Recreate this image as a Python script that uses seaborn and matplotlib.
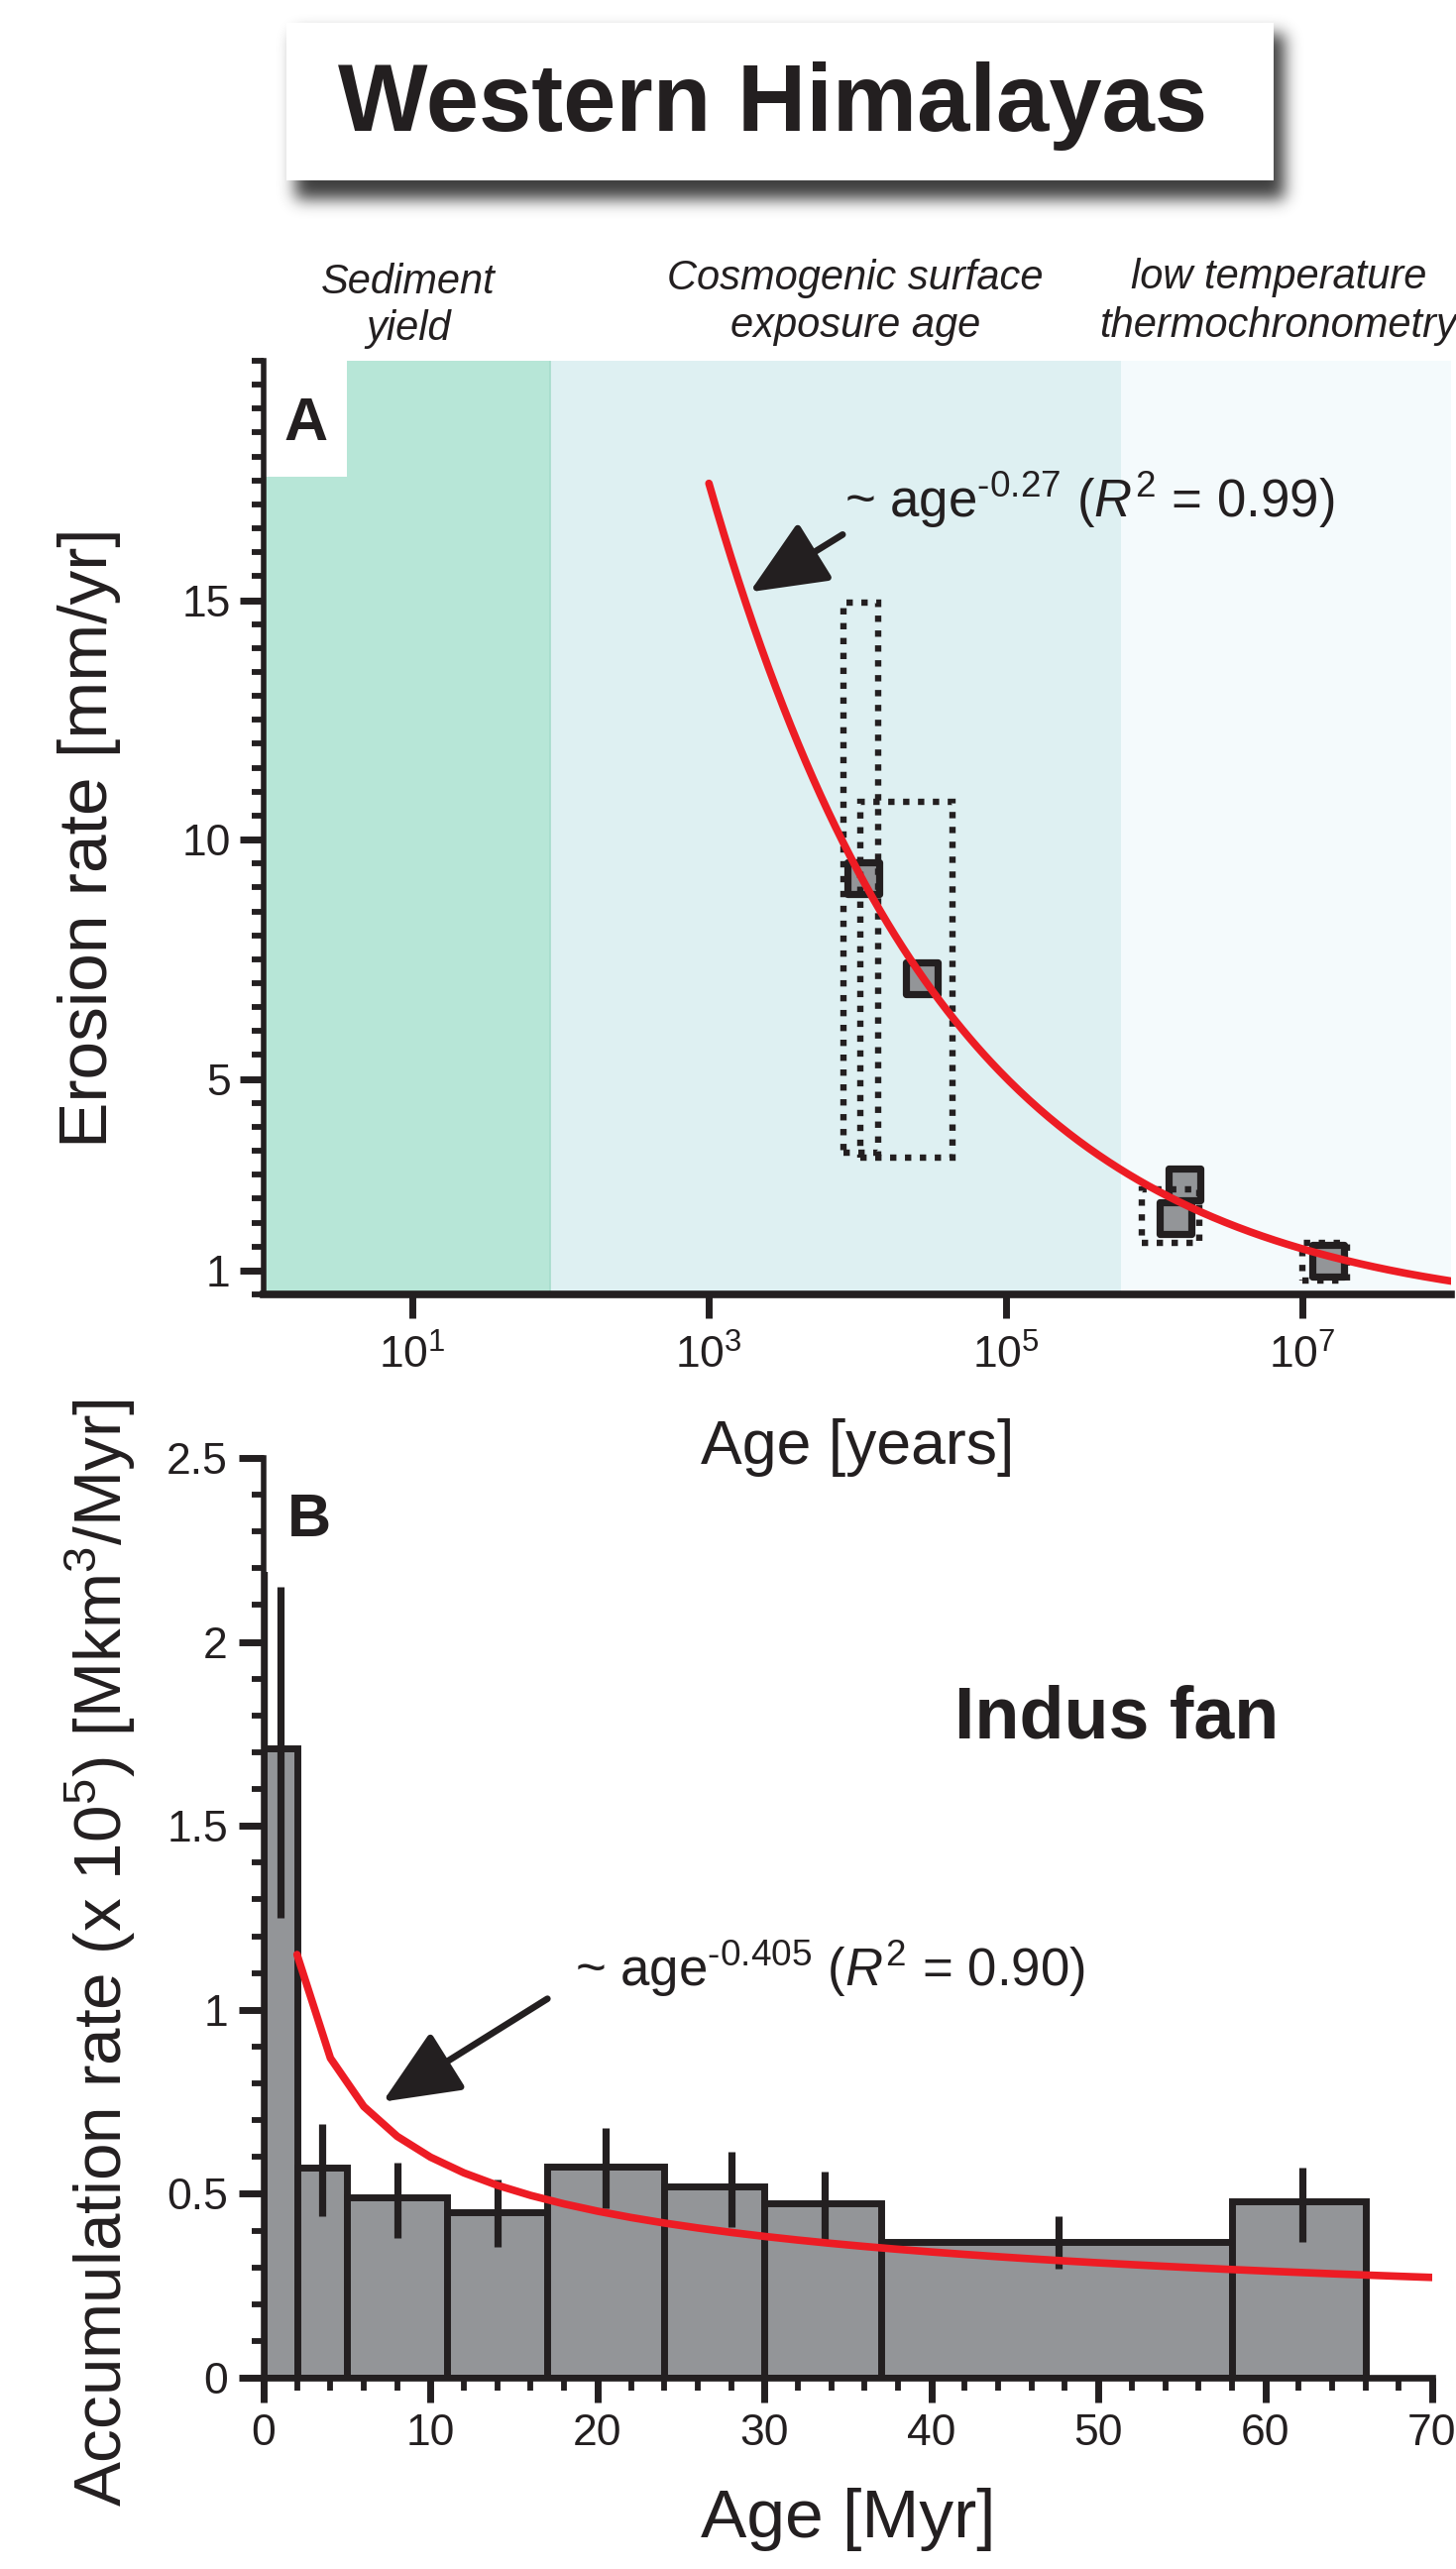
import numpy as np
import matplotlib
matplotlib.use("Agg")
import matplotlib.pyplot as plt
from matplotlib.patches import Rectangle
from matplotlib.ticker import FixedLocator, FixedFormatter, MultipleLocator, NullLocator, FormatStrFormatter
import seaborn as sns

# ------------------------------------------------------------------
# Panel A: erosion rate against measurement time scale (log age)
# ------------------------------------------------------------------
sample_age_yr = [1.09e4, 2.73e4, 1.59e6, 1.40e6, 1.49e7]
sample_rate = [9.2, 7.1, 2.8, 2.1, 1.2]

# uncertainty envelopes (dotted boxes)
range_age_lo = [8.05e3, 1.05e4, 8.2e5, 1.0e7]
range_age_hi = [1.39e4, 4.4e4, 2.0e6, 2.0e7]
range_rate_lo = [3.45, 3.36, 1.58, 0.80]
range_rate_hi = [14.95, 10.78, 2.70, 1.58]

method_labels = [["Sediment", "yield"],
                 ["Cosmogenic surface", "exposure age"],
                 ["low temperature", "thermochronometry"]]
method_bounds = [1, 85, 6e5, 1e8]
method_colors = ["#b7e6d7", "#def0f2", "#f4fafc"]

fit_a_coef = 112.6
fit_a_exp = -0.27
fit_a_r2 = 0.99
fit_a_range = (1e3, 1e8)

# ------------------------------------------------------------------
# Panel B: Indus fan accumulation rate
# ------------------------------------------------------------------
bin_edges_myr = [0, 2, 5, 11, 17, 24, 30, 37, 58, 66]
accum_rate = [1.71, 0.57, 0.49, 0.45, 0.575, 0.52, 0.475, 0.37, 0.48]
err_age = [1.0, 3.5, 8.0, 14.0, 20.5, 28.0, 33.6, 47.6, 62.2]
err_lo = [1.25, 0.44, 0.38, 0.355, 0.46, 0.41, 0.375, 0.295, 0.37]
err_hi = [2.15, 0.69, 0.585, 0.54, 0.68, 0.615, 0.56, 0.44, 0.57]
edge_spike_age = 0.15
edge_spike = (1.71, 2.19)

fit_b_coef = 1.523
fit_b_exp = -0.405
fit_b_r2 = 0.90
fit_b_ages = np.arange(2, 72, 2)

INK = "#231f20"
GREY = "#939598"
RED = "#ed1c24"
HYPHEN = "\u2010"

sns.set_theme(style="ticks")
plt.rcParams.update({
    "font.family": ["Liberation Sans", "DejaVu Sans"],
    "mathtext.fontset": "custom",
    "mathtext.rm": "Liberation Sans",
    "mathtext.it": "Liberation Sans:italic",
    "mathtext.bf": "Liberation Sans:bold",
    "text.color": INK,
    "axes.labelcolor": INK,
    "xtick.color": INK,
    "ytick.color": INK,
    "axes.edgecolor": INK,
})

W, H = 1469, 2592
fig = plt.figure(figsize=(W / 100, H / 100), dpi=100)
fig.patch.set_facecolor("white")


def fx(px):
    return px / W


def fy(py):
    return 1 - py / H


def fit_label(exp, r2):
    exp_txt = f"{exp:g}".replace("-", HYPHEN)
    return r"~ $\mathregular{age^{%s}}$ ($R^{\mathregular{2}}$ = %.2f)" % (exp_txt, r2)


ARROW = dict(arrowstyle="-|>,head_length=2.4,head_width=1.05",
             mutation_scale=20, lw=4.8, color=INK, shrinkA=0, shrinkB=0)

# ---------------- title box with soft drop shadow ----------------
sx0, sx1, sy0, sy1 = 250, 1350, 0, 270
tax = fig.add_axes([fx(sx0), fy(sy1), fx(sx1 - sx0), (sy1 - sy0) / H], zorder=0)
tax.set_axis_off()
mask = np.zeros((sy1 - sy0, sx1 - sx0))
mask[34:201, 298 - sx0:1296 - sx0] = 1.0
sig = 8.0
t = np.arange(-int(3 * sig), int(3 * sig) + 1)
k = np.exp(-0.5 * (t / sig) ** 2)
k /= k.sum()
blur = np.apply_along_axis(lambda v: np.convolve(v, k, mode="same"), 1, mask)
blur = np.apply_along_axis(lambda v: np.convolve(v, k, mode="same"), 0, blur)
rgba = np.zeros(mask.shape + (4,))
rgba[..., :3] = 0.16
rgba[..., 3] = 0.9 * blur
tax.imshow(rgba, extent=(sx0, sx1, sy1, sy0), interpolation="bilinear", aspect="auto")
tax.add_patch(Rectangle((289, 23), 1285 - 289, 182 - 23, facecolor="white",
                        edgecolor="none", zorder=3))
tax.text(780, 132, "Western Himalayas", fontsize=69, fontweight="bold",
         ha="center", va="baseline", zorder=4)
tax.set_xlim(sx0, sx1)
tax.set_ylim(sy1, sy0)

# ---------------- method headers ----------------
header_pos = [(412, 296, 343), (863, 292, 340), (1290, 291, 340)]
for lines, (cx, b1, b2) in zip(method_labels, header_pos):
    fig.text(fx(cx), fy(b1), lines[0], fontsize=30, style="italic",
             ha="center", va="baseline")
    fig.text(fx(cx), fy(b2), lines[1], fontsize=30, style="italic",
             ha="center", va="baseline")

# ---------------- panel A ----------------
axA = fig.add_axes([fx(266), fy(1306), fx(1464 - 266), (1306 - 364) / H], zorder=2)
axA.set_xscale("log")
for lo, hi, col in zip(method_bounds[:-1], method_bounds[1:], method_colors):
    axA.axvspan(lo, hi, color=col, lw=0, zorder=0.5)
axA.axvline(method_bounds[1], color="#a6dccb", lw=1.2, zorder=0.6)
axA.add_patch(Rectangle((0, 0.8758), 0.0701, 0.1242, transform=axA.transAxes,
                        facecolor="white", edgecolor="none", zorder=1))

sns.scatterplot(x=sample_age_yr, y=sample_rate, marker="s", s=529,
                color=GREY, edgecolor=INK, linewidth=5.2, ax=axA, zorder=3,
                legend=False)
for a0, a1, r0, r1 in zip(range_age_lo, range_age_hi, range_rate_lo, range_rate_hi):
    axA.add_patch(Rectangle((a0, r0), a1 - a0, r1 - r0, fill=False,
                            edgecolor=INK, lw=4.6, ls=(0, (1.0, 1.35)), zorder=4))

fit_a_age = np.logspace(np.log10(fit_a_range[0]), np.log10(fit_a_range[1]), 300)
sns.lineplot(x=fit_a_age, y=fit_a_coef * fit_a_age ** fit_a_exp, color=RED,
             lw=5.5, ax=axA, zorder=5, sort=True, estimator=None)

axA.annotate("", xy=(1884, 15.17), xytext=(7960, 16.37), arrowprops=ARROW, zorder=6)
axA.text(8240, 16.72, fit_label(fit_a_exp, fit_a_r2),
         fontsize=38, ha="left", va="baseline", zorder=6)
axA.text(0.0175, 0.915, "A", transform=axA.transAxes, fontsize=44,
         fontweight="bold", ha="left", va="baseline", zorder=6)

axA.set_xlim(1, 1e8)
axA.set_ylim(0.5, 20)
axA.xaxis.set_major_locator(FixedLocator([1e1, 1e3, 1e5, 1e7]))
axA.xaxis.set_major_formatter(FixedFormatter(
    [r"$\mathregular{10^{1}}$", r"$\mathregular{10^{3}}$",
     r"$\mathregular{10^{5}}$", r"$\mathregular{10^{7}}$"]))
axA.xaxis.set_minor_locator(NullLocator())
axA.yaxis.set_major_locator(FixedLocator([1, 5, 10, 15]))
axA.yaxis.set_major_formatter(FormatStrFormatter("%g"))
axA.yaxis.set_minor_locator(MultipleLocator(0.5))
axA.tick_params(axis="both", which="major", length=17, width=5,
                direction="out", labelsize=32, pad=7)
axA.tick_params(axis="x", which="major", pad=12)
axA.tick_params(axis="y", which="minor", length=8.6, width=4.2, direction="out")
for side in ("top", "right"):
    axA.spines[side].set_visible(False)
axA.spines["left"].set_linewidth(4)
axA.spines["bottom"].set_linewidth(5.5)
axA.set_xlabel("Age [years]", fontsize=45)
axA.xaxis.label.set_verticalalignment("baseline")
axA.xaxis.set_label_coords(0.5, -0.1815)
axA.set_ylabel("Erosion rate [mm/yr]", fontsize=50)
axA.yaxis.label.set_verticalalignment("center")
axA.yaxis.set_label_coords(-0.147, 0.489)

# ---------------- panel B ----------------
axB = fig.add_axes([fx(266), fy(2399), fx(1445 - 266), (2399 - 1471) / H], zorder=1)
axB.patch.set_visible(False)
bin_mid = [(a + b) / 2 for a, b in zip(bin_edges_myr[:-1], bin_edges_myr[1:])]
sns.histplot(x=bin_mid, weights=accum_rate, bins=bin_edges_myr, stat="count",
             color=GREY, edgecolor=INK, linewidth=5, alpha=1, ax=axB, zorder=2)
axB.vlines(err_age, err_lo, err_hi, color=INK, lw=5.2, zorder=3)
axB.vlines([edge_spike_age], [edge_spike[0]], [edge_spike[1]], color=INK, lw=1.7, zorder=3)
sns.lineplot(x=fit_b_ages, y=fit_b_coef * fit_b_ages ** fit_b_exp, color=RED,
             lw=5.5, ax=axB, zorder=4, estimator=None)
axB.annotate("", xy=(7.13, 0.75), xytext=(17.0, 1.03), arrowprops=ARROW, zorder=6)
axB.text(18.65, 1.065, fit_label(fit_b_exp, fit_b_r2),
         fontsize=38, ha="left", va="baseline", zorder=6)
axB.text(41.4, 1.739, "Indus fan", fontsize=53, fontweight="bold",
         ha="left", va="baseline")
axB.text(0.0204, 0.915, "B", transform=axB.transAxes, fontsize=44,
         fontweight="bold", ha="left", va="baseline")

axB.set_xlim(0, 70)
axB.set_ylim(0, 2.5)
axB.xaxis.set_major_locator(MultipleLocator(10))
axB.xaxis.set_minor_locator(MultipleLocator(2))
axB.yaxis.set_major_locator(MultipleLocator(0.5))
axB.yaxis.set_minor_locator(MultipleLocator(0.1))
axB.yaxis.set_major_formatter(FormatStrFormatter("%g"))
axB.tick_params(axis="both", which="major", length=18, width=5,
                direction="out", labelsize=32, pad=8)
axB.tick_params(axis="both", which="minor", length=9, width=4.2, direction="out")
for side in ("top", "right"):
    axB.spines[side].set_visible(False)
axB.spines["left"].set_linewidth(4)
axB.spines["bottom"].set_linewidth(4.8)
axB.set_xlabel("Age [Myr]", fontsize=50)
axB.xaxis.label.set_verticalalignment("baseline")
axB.xaxis.set_label_coords(0.5, -0.1735)
axB.set_ylabel(r"Accumulation rate (x $\mathregular{10^{5}}$) [$\mathregular{Mkm^{3}}$/Myr]",
               fontsize=48.5)
axB.yaxis.label.set_verticalalignment("center")
axB.yaxis.set_label_coords(-0.14, 0.4623)

fig.savefig("out.png", dpi=100, facecolor="white")
